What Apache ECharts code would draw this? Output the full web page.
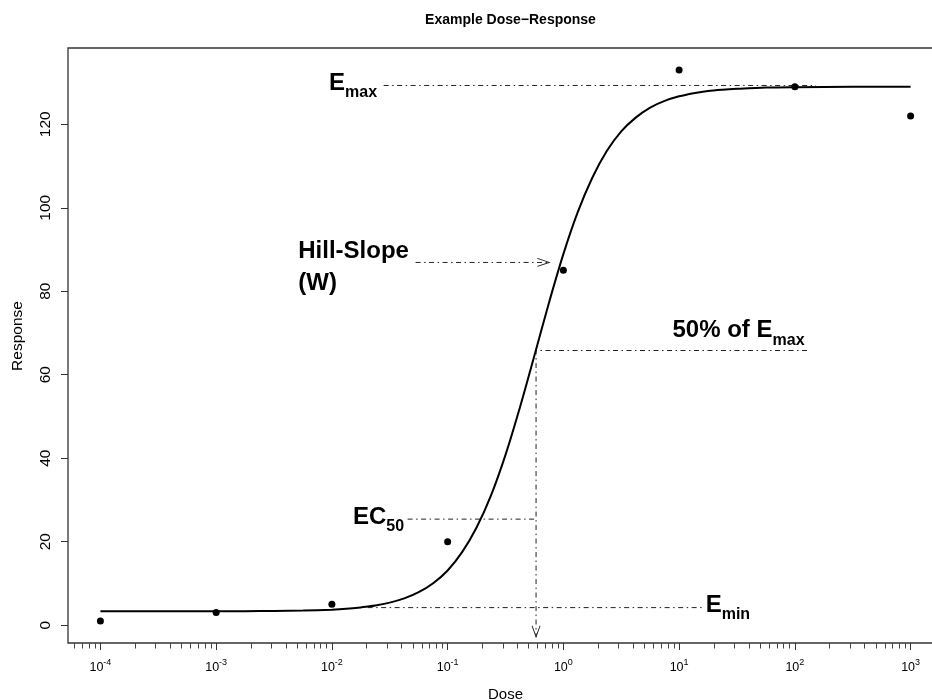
<!DOCTYPE html>
<html>
<head>
<meta charset="utf-8">
<title>Example Dose-Response</title>
<script src="https://cdn.jsdelivr.net/npm/echarts@6/dist/echarts.min.js"></script>
<style>
    html, body { margin: 0; padding: 0; background: #fff; }
    #dose_chart { width: 932px; height: 700px; }
</style>
</head>
<body>
<div id="dose_chart"></div>
<script>
var FONT = '"Liberation Sans", Arial, Helvetica, sans-serif';

// measured points
var doses = [1e-4, 1e-3, 1e-2, 1e-1, 1, 10, 100, 1000];
var responses = [1, 3, 5, 20, 85, 133, 129, 122];

// fitted curve: log10(dose) / response
var curveLogDose = [-4, -3.5, -3, -2.75, -2.5, -2.25, -2, -1.875, -1.75, -1.625, -1.5, -1.375, -1.25, -1.125, -1,
    -0.875, -0.75, -0.625, -0.5, -0.375, -0.25, -0.125, 0, 0.125, 0.25, 0.375, 0.5, 0.625, 0.75,
    0.875, 1, 1.125, 1.25, 1.375, 1.5, 1.75, 2, 2.5, 3];
var curveResp = [3.3, 3.3, 3.3, 3.34, 3.4, 3.5, 3.7, 3.9, 4.25, 4.7, 5.4, 6.4, 7.9, 10.05, 13.1,
    17.5, 23.4, 31.1, 40.8, 52.2, 64.6, 77.2, 88.9, 99.0, 107.2, 113.6, 118.3, 121.6, 124.0,
    125.6, 126.7, 127.45, 128.0, 128.3, 128.5, 128.8, 128.9, 129.0, 129.0];

// axis ticks
var decadeExp = [-4, -3, -2, -1, 0, 1, 2, 3];
var yTicks = [0, 20, 40, 60, 80, 100, 120];

// annotation guide lines, [log10 dose, response]
var emaxGuide = [[-1.553, 129.3], [2.183, 129.3]];
var hillGuide = [[-1.277, 86.9], [-0.121, 86.9]];
var halfGuide = [[2.105, 65.8], [-0.236, 65.8], [-0.236, -2.8]];
var ec50Guide = [[-1.346, 25.4], [-0.236, 25.4]];
var eminGuide = [[-1.691, 4.2], [1.199, 4.2]];

// annotation texts and where they sit
var annoText = ['{b|E}{s|max}', '{b|Hill-Slope}\n{b|(W)}', '{b|50% of E}{s|max}', '{b|EC}{s|50}', '{b|E}{s|min}'];
var annoAt = [[-1.605, 129.8], [-2.286, 85.7], [2.088, 70.4], [-1.372, 25.8], [1.234, 4.7]];
var annoAlign = ['right', 'left', 'right', 'right', 'left'];

var xMin = -4.28, xMax = 3.28;
var yMin = -4.28, yMax = 138.28;

var minorTicks = [];
for (var e = -5; e <= 3; e++) {
    for (var k = 2; k <= 9; k++) {
        var lv = Math.log10(k) + e;
        if (lv > xMin && lv < xMax) minorTicks.push(lv);
    }
}

var pointData = doses.map(function (d, i) { return [Math.log10(d), responses[i]]; });
var curveData = curveLogDose.map(function (x, i) { return [x, curveResp[i]]; });

var annoRich = {
    b: { fontSize: 24, fontWeight: 'bold', fontFamily: FONT, color: '#000', lineHeight: 32 },
    s: { fontSize: 16, fontWeight: 'bold', fontFamily: FONT, color: '#000', padding: [19, 0, 0, 0] }
};

var annoData = annoText.map(function (t, i) {
    return {
        value: annoAt[i],
        label: {
            show: true, formatter: t, position: [0, 0], align: annoAlign[i], verticalAlign: 'middle',
            color: '#000', rich: annoRich
        }
    };
});

var dashDot = [5, 3.5, 1.5, 3.5];
function guide(data) {
    return {
        type: 'line', data: data, symbol: 'none', silent: true, z: 2,
        lineStyle: { color: '#222', width: 1, type: dashDot }
    };
}

var chart = echarts.init(document.getElementById('dose_chart'));
var option = {
    backgroundColor: '#fff',
    animation: false,
    title: {
        text: 'Example Dose\u2212Response',
        left: 505.5,
        top: 8,
        textAlign: 'center',
        textStyle: { fontSize: 14, fontWeight: 'bold', color: '#000', fontFamily: FONT }
    },
    grid: {
        left: 68, top: 48, width: 875, height: 595,
        show: true, borderColor: '#333', borderWidth: 1.3, backgroundColor: 'transparent',
        containLabel: false, outerBoundsMode: 'none'
    },
    graphic: [{
        type: 'text', x: 18, y: 336, rotation: Math.PI / 2,
        style: { text: 'Response', fontSize: 15.5, fontFamily: FONT, fill: '#000', align: 'center', verticalAlign: 'middle' }
    }],
    xAxis: [{
        type: 'value', min: xMin, max: xMax,
        name: 'Dose', nameLocation: 'middle', nameGap: 44,
        nameTextStyle: { fontSize: 15, fontFamily: FONT, color: '#000' },
        axisLine: { show: false, onZero: false },
        splitLine: { show: false },
        axisTick: { show: true, length: 7, customValues: decadeExp, lineStyle: { color: '#333', width: 1 } },
        axisLabel: {
            show: true, margin: 15, customValues: decadeExp,
            formatter: function (v) { return '{n|10}{s|' + Math.round(v) + '}'; },
            rich: {
                n: { fontSize: 12.5, fontFamily: FONT, color: '#000' },
                s: { fontSize: 9, fontFamily: FONT, color: '#000', padding: [0, 0, 10, 0] }
            }
        }
    }, {
        type: 'value', min: xMin, max: xMax, position: 'bottom',
        axisLine: { show: false, onZero: false },
        splitLine: { show: false },
        axisLabel: { show: false },
        axisTick: { show: true, length: 5.5, customValues: minorTicks, lineStyle: { color: '#444', width: 1 } }
    }],
    yAxis: {
        type: 'value', min: yMin, max: yMax,
        axisLine: { show: false, onZero: false },
        splitLine: { show: false },
        axisTick: { show: true, length: 7, customValues: yTicks, lineStyle: { color: '#333', width: 1 } },
        axisLabel: {
            show: true, rotate: 90, margin: 14, customValues: yTicks,
            fontSize: 15.5, fontFamily: FONT, color: '#000'
        }
    },
    series: [
        guide(emaxGuide),
        guide(hillGuide),
        guide(halfGuide),
        guide(ec50Guide),
        guide(eminGuide),
        {
            // open arrow heads, like R's arrows()
            type: 'scatter', silent: true, z: 3,
            data: [
                { value: hillGuide[1], symbol: 'path://M0,0 L12,4 L0,8', symbolSize: [12, 8], symbolOffset: [-6, 0] },
                { value: halfGuide[2], symbol: 'path://M0,0 L4,11 L8,0', symbolSize: [8, 11], symbolOffset: [0, -5.5] }
            ],
            itemStyle: { color: 'rgba(0,0,0,0)', borderColor: '#222', borderWidth: 1, opacity: 1 }
        },
        {
            name: 'fit', type: 'line', data: curveData, symbol: 'none', silent: true, z: 4,
            smooth: 0.3,
            lineStyle: { color: '#000', width: 2 }
        },
        {
            name: 'response', type: 'scatter', data: pointData, silent: true, z: 5,
            symbol: 'circle', symbolSize: 7,
            itemStyle: { color: '#000', opacity: 1 }
        },
        {
            type: 'scatter', data: annoData, silent: true, z: 6,
            symbolSize: 1, itemStyle: { color: 'rgba(0,0,0,0)', opacity: 1 }
        }
    ]
};
chart.setOption(option);
</script>
</body>
</html>
